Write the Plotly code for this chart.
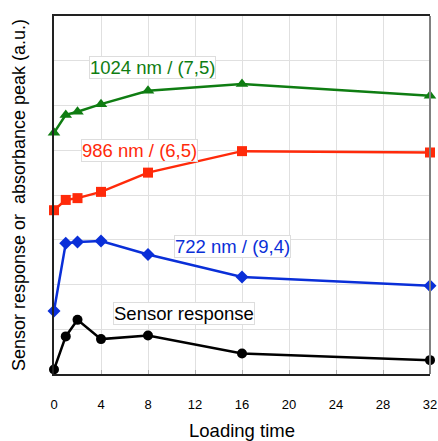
import plotly.graph_objects as go

loading_time = [0, 1, 2, 4, 8, 16, 32]
sensor_response = [0.10, 0.84, 1.21, 0.78, 0.86, 0.46, 0.31]
peak_722 = [1.41, 2.92, 2.95, 2.97, 2.67, 2.17, 1.97]
peak_986 = [3.66, 3.89, 3.93, 4.07, 4.50, 4.98, 4.95]
peak_1024 = [5.39, 5.79, 5.86, 6.03, 6.33, 6.48, 6.22]
x_ticks = [0, 4, 8, 12, 16, 20, 24, 28, 32]

FONT = "Liberation Sans, Arial, Helvetica, sans-serif"

series = [
    ("Sensor response", sensor_response, "#000000", "circle", 10),
    ("722 nm / (9,4)", peak_722, "#0a2fd8", "diamond", 10),
    ("986 nm / (6,5)", peak_986, "#ff2a0a", "square", 10),
    ("1024 nm / (7,5)", peak_1024, "#0f7d12", "triangle-up", 11),
]

fig = go.Figure()
for name, vals, col, sym, sz in series:
    fig.add_trace(go.Scatter(
        x=loading_time, y=vals, mode="lines+markers", name=name,
        line=dict(color=col, width=2.5),
        marker=dict(color=col, symbol=sym, size=sz),
        cliponaxis=False, showlegend=False,
    ))

labels = [
    ("1024 nm / (7,5)", 8.35, 6.84, "#0f7d12"),
    ("986 nm / (6,5)", 7.28, 4.99, "#ff2a0a"),
    ("722 nm / (9,4)", 15.19, 2.86, "#0a2fd8"),
    ("Sensor response", 11.04, 1.36, "#000000"),
]
for txt, x, y, col in labels:
    fig.add_annotation(x=x, y=y, text=txt, showarrow=False,
                       font=dict(family=FONT, size=18.5, color=col),
                       bgcolor="white", bordercolor="#dddddd", borderwidth=1, borderpad=0)

# right border (gray)
fig.add_shape(type="line", xref="paper", yref="paper", x0=1, x1=1, y0=0, y1=1,
              line=dict(color="#808080", width=2))

fig.update_layout(
    width=438, height=441,
    margin=dict(l=54, r=8, t=16, b=67, autoexpand=False),
    plot_bgcolor="white", paper_bgcolor="white",
    font=dict(family=FONT, color="black"),
    xaxis=dict(range=[0, 32], tickvals=x_ticks, showgrid=True, gridcolor="#e0e0e0", gridwidth=1,
               zeroline=False, showline=True, linecolor="#222222", linewidth=2, mirror=True,
               ticks="inside", ticklen=4, tickcolor="#b0b0b0", automargin=True,
               ticklabelstandoff=17,
               tickfont=dict(size=13, family=FONT),
               title=dict(text="Loading time", font=dict(size=18.5, family=FONT), standoff=16)),
    yaxis=dict(range=[0, 8], dtick=1, showticklabels=False, showgrid=True, gridcolor="#e0e0e0",
               zeroline=False, showline=True, linecolor="#222222", linewidth=2,
               ticks="", automargin=False,
               title=dict(text="Sensor response or  absorbance peak (a.u.)",
                          font=dict(size=18, family=FONT), standoff=22)),
)

fig.write_html("out.html")
